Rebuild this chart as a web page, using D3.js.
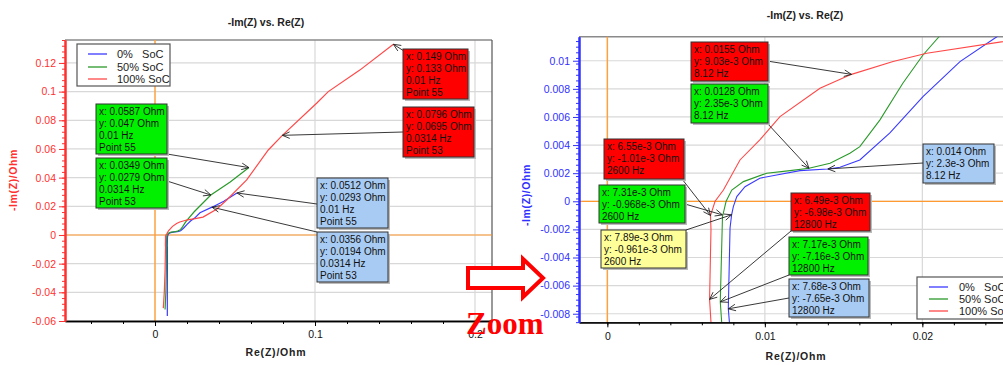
<!DOCTYPE html>
<html><head><meta charset="utf-8">
<script src="https://cdn.jsdelivr.net/npm/d3@7"></script>
<style>
body{margin:0;background:#fff;}
svg text{font-family:"Liberation Sans",Arial,sans-serif;}
svg text.serif{font-family:"Liberation Serif","Times New Roman",serif;}
</style></head>
<body><svg id="c" width="1003" height="365"></svg>
<script>
// ---- data: [Re(Z), -Im(Z)] in Ohm ----
const seriesNames = ["0%   SoC", "50% SoC", "100% SoC"];
const blue0 = [[0.0077,-0.0565],[0.0077,-0.04],[0.00775,-0.02],[0.00775,-0.0086],[0.00768,-0.00765],[0.00779,-0.0019],[0.00789,-0.00096],[0.008,-0.00038],[0.00822,0.00033],[0.00874,0.00104],[0.00968,0.00164],[0.01075,0.00187],[0.01223,0.00218],[0.014,0.0023],[0.01477,0.00242],[0.01603,0.00294],[0.01794,0.00486],[0.02004,0.00745],[0.02239,0.00994],[0.0248,0.01176],[0.0281,0.0155],[0.0356,0.0194],[0.043,0.0235],[0.0512,0.0293]];
const green50 = [[0.0063,-0.052],[0.0068,-0.04],[0.0072,-0.02],[0.00726,-0.0086],[0.00717,-0.00716],[0.00731,-0.0011],[0.00754,0],[0.0079,0.0008],[0.00864,0.0014],[0.01012,0.002],[0.0116,0.00218],[0.0128,0.00235],[0.01414,0.0027],[0.0154,0.00342],[0.01603,0.00389],[0.01731,0.00579],[0.01876,0.0084],[0.02004,0.01041],[0.0211,0.01176],[0.0245,0.0162],[0.0349,0.0279],[0.047,0.037],[0.0587,0.047]];
const red100 = [[0.0052,-0.051],[0.0058,-0.04],[0.0063,-0.025],[0.0065,-0.012],[0.00658,-0.0086],[0.00649,-0.00698],[0.00658,-0.002],[0.00655,-0.00101],[0.00684,0],[0.00737,0.0008],[0.00842,0.00294],[0.00968,0.00437],[0.01096,0.00602],[0.0135,0.00804],[0.0155,0.00903],[0.01814,0.00994],[0.02028,0.01053],[0.02512,0.01136],[0.03,0.0125],[0.0385,0.018],[0.0448,0.0244],[0.0573,0.0384],[0.0708,0.0593],[0.0796,0.0695],[0.101,0.0919],[0.1083,0.1],[0.128,0.115],[0.149,0.133]];

// ticks
const xTicksL = [0, 0.1, 0.2];
const xLabelsL = ["0", "0.1", "0.2"];
const yTicksL = [-0.06,-0.04,-0.02,0,0.02,0.04,0.06,0.08,0.1,0.12];
const yLabelsL = ["-0.06","-0.04","-0.02","0","0.02","0.04","0.06","0.08","0.1","0.12"];
const xTicksR = [0, 0.01, 0.02];
const xLabelsR = ["0", "0.01", "0.02"];
const yTicksR = [-0.008,-0.006,-0.004,-0.002,0,0.002,0.004,0.006,0.008,0.01];
const yLabelsR = ["-0.008","-0.006","-0.004","-0.002","0","0.002","0.004","0.006","0.008","0.01"];

// annotations (text + target value)
const annotL = [
  {c:"green", t:["x: 0.0587 Ohm","y: 0.047 Ohm","0.01 Hz","Point 55"], p:[0.0587,0.047]},
  {c:"green", t:["x: 0.0349 Ohm","y: 0.0279 Ohm","0.0314 Hz","Point 53"], p:[0.0349,0.0279]},
  {c:"red",   t:["x: 0.149 Ohm","y: 0.133 Ohm","0.01 Hz","Point 55"], p:[0.149,0.133]},
  {c:"red",   t:["x: 0.0796 Ohm","y: 0.0695 Ohm","0.0314 Hz","Point 53"], p:[0.0796,0.0695]},
  {c:"blue",  t:["x: 0.0512 Ohm","y: 0.0293 Ohm","0.01 Hz","Point 55"], p:[0.0512,0.0293]},
  {c:"blue",  t:["x: 0.0356 Ohm","y: 0.0194 Ohm","0.0314 Hz","Point 53"], p:[0.0356,0.0194]}
];
const annotR = [
  {c:"red",   t:["x: 0.0155 Ohm","y: 9.03e-3 Ohm","8.12 Hz"], p:[0.0155,0.00903]},
  {c:"green", t:["x: 0.0128 Ohm","y: 2.35e-3 Ohm","8.12 Hz"], p:[0.0128,0.00235]},
  {c:"blue",  t:["x: 0.014 Ohm","y: 2.3e-3 Ohm","8.12 Hz"], p:[0.014,0.0023]},
  {c:"red",   t:["x: 6.55e-3 Ohm","y: -1.01e-3 Ohm","2600 Hz"], p:[0.00655,-0.00101]},
  {c:"green", t:["x: 7.31e-3 Ohm","y: -0.968e-3 Ohm","2600 Hz"], p:[0.00731,-0.000968]},
  {c:"yellow",t:["x: 7.89e-3 Ohm","y: -0.961e-3 Ohm","2600 Hz"], p:[0.00789,-0.000961]},
  {c:"red",   t:["x: 6.49e-3 Ohm","y: -6.98e-3 Ohm","12800 Hz"], p:[0.00649,-0.00698]},
  {c:"green", t:["x: 7.17e-3 Ohm","y: -7.16e-3 Ohm","12800 Hz"], p:[0.00717,-0.00716]},
  {c:"blue",  t:["x: 7.68e-3 Ohm","y: -7.65e-3 Ohm","12800 Hz"], p:[0.00768,-0.00765]}
];
// box layout (pixels): x, y, w, h, line start sx, sy
const layoutL = [[96,104,71,50,167,154],[96,158,71,50,167,181],[403,49,65,50,404,51],[403,107,71,50,403,132],[317,178,71,50,317,204],[317,232,71,50,317,232]];
const layoutR = [[691,42,77,39,767,61],[691,84,77,39,767,123],[923,144,71,39,923,163],[604,139,80,40,682,179],[599,185,86,38,685,204],[601,230,85,38,686,230],[791,193,79,38,791,231],[789,237,79,38,789,275],[789,279,80,38,789,298]];

const boxFill = {green:"#00f000", red:"#ff0000", blue:"#a8cbf3", yellow:"#ffff99"};
const lineCol = ["#3a3aff", "#2a9a2a", "#ff4848"];
const allSeries = [blue0, green50, red100];

const svg = d3.select("#c");

function drawChart(cfg){
  const {x, y, xt, xl, yt, yl, axisCol, xMinor, yMinor, left, right, top, bottom, id, title, titleX, titleY, xLabX, xLabY, yLabX, yLabY, lw} = cfg;
  const g = svg.append("g");
  svg.append("defs").append("clipPath").attr("id", id).append("rect")
    .attr("x", left).attr("y", top).attr("width", right-left).attr("height", bottom-top);
  g.selectAll(".hg").data(yt).join("line")
    .attr("x1", left).attr("x2", right).attr("y1", d=>y(d)).attr("y2", d=>y(d))
    .attr("stroke", "#d8d8d8").attr("stroke-width", 1.2);
  g.selectAll(".vg").data(xt.filter(d=>d!==0)).join("line")
    .attr("y1", top).attr("y2", bottom).attr("x1", d=>x(d)).attr("x2", d=>x(d))
    .attr("stroke", "#d8d8d8").attr("stroke-width", 1.2);
  g.append("line").attr("x1", left).attr("x2", right).attr("y1", top).attr("y2", top).attr("stroke", "#8a8a8a").attr("stroke-width", 1.5);
  if (cfg.rightBorder) g.append("line").attr("x1", right).attr("x2", right).attr("y1", top).attr("y2", bottom).attr("stroke", "#555").attr("stroke-width", 1.2);
  g.append("line").attr("x1", x(0)).attr("x2", x(0)).attr("y1", top).attr("y2", bottom).attr("stroke", "#ffa040").attr("stroke-width", 1.5);
  g.append("line").attr("x1", left).attr("x2", right).attr("y1", y(0)).attr("y2", y(0)).attr("stroke", "#ff9a30").attr("stroke-width", 1.2);
  const line = d3.line().x(d=>x(d[0])).y(d=>y(d[1]));
  const cg = g.append("g").attr("clip-path", `url(#${id})`);
  allSeries.forEach((s,i)=>{
    cg.append("path").attr("d", line(s)).attr("fill", "none").attr("stroke", lineCol[i]).attr("stroke-width", lw);
  });
  const xa = g.append("g").attr("transform", `translate(0,${bottom})`)
    .call(d3.axisBottom(x).tickValues(xt).tickFormat((d,i)=>xl[i]).tickSize(5).tickSizeOuter(0));
  const xm = g.append("g").attr("transform", `translate(0,${bottom})`)
    .call(d3.axisBottom(x).tickValues(xMinor).tickFormat("").tickSize(3).tickSizeOuter(0));
  [xa, xm].forEach(a=>{a.select(".domain").attr("stroke", "#000").attr("stroke-width", 1.3); a.selectAll("line").attr("stroke", "#000");});
  xa.selectAll("text").attr("font-size", "10.5px").attr("fill", "#111").attr("dy", "0.9em");
  const ya = g.append("g").attr("transform", `translate(${left},0)`)
    .call(d3.axisLeft(y).tickValues(yt).tickFormat((d,i)=>yl[i]).tickSize(6).tickSizeOuter(0));
  const ym = g.append("g").attr("transform", `translate(${left},0)`)
    .call(d3.axisLeft(y).tickValues(yMinor).tickFormat("").tickSize(3).tickSizeOuter(0));
  [ya, ym].forEach(a=>{a.select(".domain").attr("stroke", axisCol).attr("stroke-width", 2); a.selectAll("line").attr("stroke", axisCol);});
  ya.selectAll("text").attr("font-size", "10.5px").attr("fill", axisCol);
  svg.append("text").attr("x", titleX).attr("y", titleY).attr("text-anchor", "middle")
    .attr("font-weight", "bold").attr("font-size", "10.5px").attr("fill", "#222").text(title);
  svg.append("text").attr("x", xLabX).attr("y", xLabY).attr("text-anchor", "middle")
    .attr("font-weight", "bold").attr("font-size", "10.5px").attr("letter-spacing", "0.8px").attr("fill", "#222").text("Re(Z)/Ohm");
  svg.append("text").attr("transform", `translate(${yLabX},${yLabY}) rotate(-90)`).attr("text-anchor", "middle")
    .attr("font-weight", "bold").attr("font-size", "10.5px").attr("letter-spacing", "0.6px").attr("fill", axisCol).text("-Im(Z)/Ohm");
}

function drawLegend(bx, by, bw, bh, lx1, lx2, tx, rows){
  const g = svg.append("g");
  g.append("rect").attr("x", bx).attr("y", by).attr("width", bw).attr("height", bh)
    .attr("fill", "#fff").attr("stroke", "#555").attr("stroke-width", 1.2);
  seriesNames.forEach((n,i)=>{
    g.append("line").attr("x1", lx1).attr("x2", lx2).attr("y1", rows[i]).attr("y2", rows[i]).attr("stroke", lineCol[i]).attr("stroke-width", 1.3);
    g.append("text").attr("x", tx).attr("y", rows[i]+4).attr("font-size", "11px").attr("fill", "#222")
      .style("white-space", "pre").text(n);
  });
}

function drawAnnots(list, layout, x, y){
  const g = svg.append("g");
  list.forEach((a,i)=>{
    const [bx,by,bw,bh,sx,sy] = layout[i];
    const px = x(a.p[0]), py = y(a.p[1]);
    g.append("line").attr("x1", sx).attr("y1", sy).attr("x2", px).attr("y2", py).attr("stroke", "#222").attr("stroke-width", 0.9);
    const ang = Math.atan2(sy-py, sx-px), L = 8, s = 0.42;
    const p1 = [px + L*Math.cos(ang+s), py + L*Math.sin(ang+s)];
    const p2 = [px + L*Math.cos(ang-s), py + L*Math.sin(ang-s)];
    g.append("path").attr("d", `M${p1[0]},${p1[1]}L${px},${py}L${p2[0]},${p2[1]}`).attr("fill", "none").attr("stroke", "#222").attr("stroke-width", 0.9);
    g.append("rect").attr("x", bx+2).attr("y", by+2).attr("width", bw).attr("height", bh).attr("fill", "#bbb");
    g.append("rect").attr("x", bx).attr("y", by).attr("width", bw).attr("height", bh)
      .attr("fill", boxFill[a.c]).attr("stroke", "#333").attr("stroke-width", 1);
    a.t.forEach((t,j)=>{
      g.append("text").attr("x", bx+3).attr("y", by+11+j*12).attr("font-size", "10px").attr("fill", "#111").text(t);
    });
  });
}

// ---- left chart ----
const xL = d3.scaleLinear().domain([-0.05625, 0.210625]).range([65, 492]);
const yL = d3.scaleLinear().domain([-0.06, 0.136]).range([321, 40]);
drawChart({x:xL, y:yL, xt:xTicksL, xl:xLabelsL, yt:yTicksL, yl:yLabelsL, axisCol:"#ff3030",
  xMinor:d3.range(-4,21,2).map(d=>d/100), yMinor:d3.range(-60,137,4).map(d=>d/1000),
  left:65, right:492, top:40, bottom:321, id:"clipL", rightBorder:true, lw:1.2,
  title:"-Im(Z) vs. Re(Z)", titleX:266, titleY:26, xLabX:276, xLabY:356, yLabX:17, yLabY:180});
drawLegend(77, 44, 93, 42, 88, 107, 117, [54, 67, 79]);
drawAnnots(annotL, layoutL, xL, yL);

// ---- right chart (zoom) ----
const xR = d3.scaleLinear().domain([-0.0018, 0.0252]).range([579, 1004.25]);
const yR = d3.scaleLinear().domain([-0.00861, 0.01171]).range([322.3, 36.7]);
drawChart({x:xR, y:yR, xt:xTicksR, xl:xLabelsR, yt:yTicksR, yl:yLabelsR, axisCol:"#3030ff",
  xMinor:d3.range(0,25,2).map(d=>d/1000), yMinor:d3.range(-86,118,4).map(d=>d/10000),
  left:579, right:1003, top:36.7, bottom:322.3, id:"clipR", rightBorder:false, lw:1.1,
  title:"-Im(Z) vs. Re(Z)", titleX:805, titleY:19, xLabX:796, xLabY:360, yLabX:530, yLabY:195});
drawLegend(917, 277, 100, 42, 929, 948, 959, [287, 299, 311]);
drawAnnots(annotR, layoutR, xR, yR);

// ---- big "Zoom" arrow ----
svg.append("path").attr("d", "M468,268 L523,268 L523,259 L543,278 L523,297 L523,288 L468,288 Z")
  .attr("fill", "#fff").attr("stroke", "#ff0000").attr("stroke-width", 4).attr("stroke-linejoin", "miter");
svg.append("text").attr("class", "serif").attr("x", 466).attr("y", 334)
  .attr("font-weight", "bold").attr("font-size", "31px").attr("fill", "#ff0000").text("Zoom");
</script></body></html>
